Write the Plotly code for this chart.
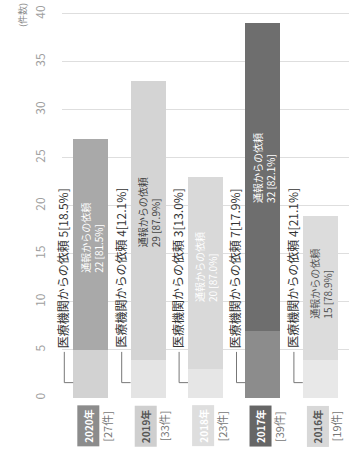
import plotly.graph_objects as go

# 依頼件数の内訳（年別）
years = ["2020年", "2019年", "2018年", "2017年", "2016年"]
totals = [27, 33, 23, 39, 19]
medical = [5, 4, 3, 7, 4]      # 医療機関からの依頼
report = [22, 29, 20, 32, 15]  # 通報からの依頼
y_ticks = [0, 5, 10, 15, 20, 25, 30, 35, 40]

# year colour scheme: top segment, bottom segment, badge, text on bar
top_colors = ["#a9a9a9", "#d4d4d4", "#d9d9d9", "#6e6e6e", "#dcdcdc"]
bottom_colors = ["#d2d2d2", "#e4e4e4", "#e6e6e6", "#8c8c8c", "#e8e8e8"]
badge_colors = ["#8c8c8c", "#cfcfcf", "#dedede", "#666666", "#d8d8d8"]
badge_text = ["#ffffff", "#555555", "#ffffff", "#ffffff", "#555555"]
bar_text = ["#ffffff", "#444444", "#ffffff", "#ffffff", "#555555"]

font = "Noto Sans CJK JP"
xs = list(range(len(years)))
bw = 0.61

fig = go.Figure()
fig.add_trace(go.Bar(x=xs, y=medical, width=bw, marker=dict(color=bottom_colors, line_width=0),
                     hoverinfo="skip", showlegend=False))
fig.add_trace(go.Bar(x=xs, y=report, width=bw, marker=dict(color=top_colors, line_width=0),
                     hoverinfo="skip", showlegend=False))

ann = []
shapes = []
for i, (yr, t, m, r) in enumerate(zip(years, totals, medical, report)):
    mp = f"{m / t * 100:.1f}%"
    rp = f"{r / t * 100:.1f}%"
    # label for the hospital share, left of the bar with a leader line
    ann.append(dict(x=i - 0.48, y=5.0, xref="x", yref="y", text=f"医療機関からの依頼 {m}[{mp}]",
                    textangle=-90, showarrow=False, xanchor="center", yanchor="bottom",
                    font=dict(family=font, size=12, color="#333333")))
    shapes.append(dict(type="path", xref="x", yref="y",
                       path=f"M {i - 0.46} 4.8 L {i - 0.46} 1.6 L {i - bw / 2} 1.6",
                       line=dict(color="#777777", width=1)))
    # label for the report share, inside the upper segment
    ann.append(dict(x=i + 0.02, y=m + r * 0.53, xref="x", yref="y", text=f"通報からの依頼<br>{r} [{rp}]",
                    textangle=-90, showarrow=False, xanchor="center", yanchor="middle", align="left",
                    font=dict(family=font, size=10, color=bar_text[i])))
    # year badge and total count under the bar
    ann.append(dict(x=i - 0.05, y=-0.072, xref="x", yref="paper", text=f"<b>{yr}</b>", textangle=-90,
                    showarrow=False, bgcolor=badge_colors[i], borderpad=3,
                    xanchor="center", yanchor="middle",
                    font=dict(family=font, size=10, color=badge_text[i])))
    ann.append(dict(x=i + 0.28, y=-0.072, xref="x", yref="paper", text=f"[{t}件]", textangle=-90,
                    showarrow=False, xanchor="center", yanchor="middle",
                    font=dict(family=font, size=11, color="#777777")))

ann.append(dict(x=-0.14, y=1.02, xref="paper", yref="paper", text="(件数)", textangle=-90,
                showarrow=False, xanchor="center", yanchor="top",
                font=dict(family=font, size=9, color="#888888")))

fig.update_layout(
    width=350, height=459,
    margin=dict(l=62, r=1, t=9, b=61),
    barmode="stack", bargap=0,
    plot_bgcolor="#ffffff", paper_bgcolor="#ffffff",
    annotations=ann, shapes=shapes,
    xaxis=dict(range=[-0.5, 4.5], showticklabels=False, showgrid=False, zeroline=False),
    yaxis=dict(range=[0, 40.5], tickvals=y_ticks, ticktext=[str(v) for v in y_ticks],
               tickangle=-90, showgrid=True, gridcolor="#dedede", zeroline=False,
               ticklabelstandoff=14, tickfont=dict(family=font, size=12, color="#a0a0a0")),
)

fig.write_html("out.html")
